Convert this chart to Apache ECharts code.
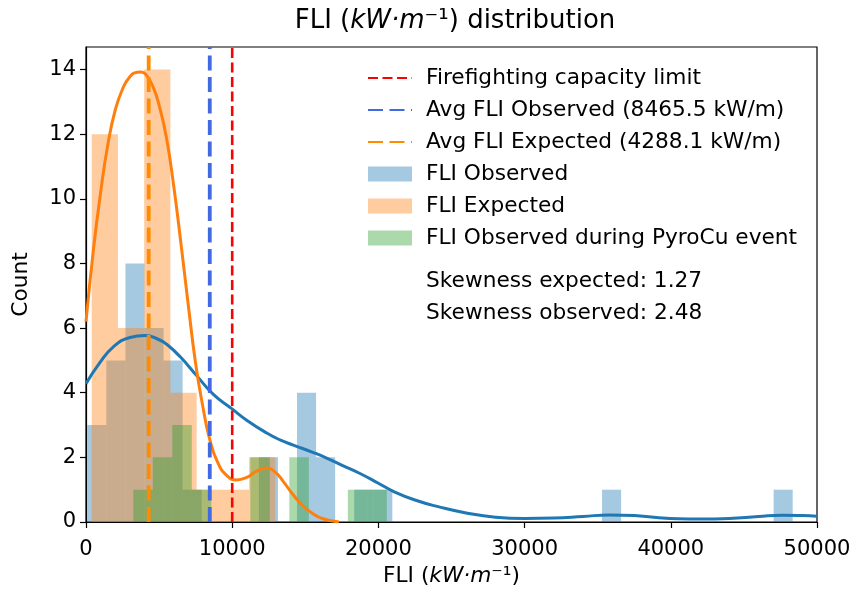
<!DOCTYPE html>
<html><head><meta charset="utf-8">
<script src="https://cdn.jsdelivr.net/npm/echarts@6/dist/echarts.min.js"></script>
<style>html,body{margin:0;padding:0;background:#fff}#c{width:858px;height:589px}</style>
</head><body><div id="c"></div>
<script>
// ---- data ----
const xTicks = [0, 10000, 20000, 30000, 40000, 50000];
const yTicks = [0, 2, 4, 6, 8, 10, 12, 14];

const obsBinWidth = 1304;
const obsBinLeft = [89, 1393, 2697, 4001, 5305, 6609, 11825, 14433, 15737, 18345, 19649, 35297, 47033];
const obsCounts  = [3, 5, 8, 6, 5, 1, 2, 4, 2, 1, 1, 1, 1];

const expBinWidth = 1794;
const expBinLeft = [390, 2184, 3978, 5772, 7566, 9360, 11154];
const expCounts  = [12, 6, 14, 4, 1, 1, 2];

const pyroBinWidth = 1334;
const pyroBinLeft = [3235, 4569, 5903, 7237, 11239, 13907, 17909, 19243];
const pyroCounts  = [1, 2, 3, 1, 2, 2, 1, 1];

const kdeObsX = [0, 900, 1870, 3010, 4040, 5000, 5520, 6430, 7570, 8710, 9990, 10990, 12330, 13270, 14180, 15550, 16460, 17600, 18740, 20000, 21020, 22500, 24210, 26000, 28000, 30000, 32000, 34000, 35800, 37500, 39000, 40500, 42000, 44000, 46000, 47600, 49000, 50000];
const kdeObsY = [4.28, 4.9, 5.42, 5.71, 5.77, 5.64, 5.5, 5.12, 4.53, 3.95, 3.5, 3.15, 2.76, 2.54, 2.38, 2.15, 1.98, 1.74, 1.5, 1.2, 0.95, 0.68, 0.46, 0.28, 0.15, 0.11, 0.12, 0.17, 0.22, 0.2, 0.14, 0.1, 0.09, 0.11, 0.17, 0.21, 0.2, 0.18];

const kdeExpX = [0, 500, 1000, 1500, 2000, 2500, 3000, 3500, 3760, 4100, 4600, 5000, 5500, 6000, 6500, 7000, 7500, 8000, 8465, 9000, 9600, 10300, 11000, 11700, 12300, 12900, 13500, 14100, 14800, 15500, 16200, 17300];
const kdeExpY = [6.2, 8.4, 10.2, 11.7, 12.75, 13.4, 13.78, 13.92, 13.93, 13.85, 13.45, 12.9, 11.9, 10.4, 8.6, 6.7, 4.9, 3.55, 2.55, 1.85, 1.45, 1.3, 1.38, 1.58, 1.67, 1.56, 1.25, 0.88, 0.52, 0.26, 0.1, 0.0];

const capacityLimit = 10000;
const avgObserved = 8465.5;
const avgExpected = 4288.1;
const skewExpected = 1.27;
const skewObserved = 2.48;
const yMax = 14.7;

// ---- chart ----
const FONT = 'DejaVu Sans';
const FS = 21.7;
const chart = echarts.init(document.getElementById('c'), null, {renderer: 'canvas'});

function histRender(params, api) {
  const x0 = api.value(0), x1 = api.value(1), c = api.value(2);
  const p0 = api.coord([x0, 0]);
  const p1 = api.coord([x1, c]);
  const cs = params.coordSys;
  const shape = echarts.graphic.clipRectByRect(
    {x: p0[0], y: p1[1], width: p1[0] - p0[0], height: p0[1] - p1[1]},
    {x: cs.x, y: cs.y, width: cs.width, height: cs.height});
  return shape && {type: 'rect', shape: shape, style: api.style()};
}
function hist(name, lefts, width, counts, color) {
  return {
    name: name, type: 'custom', renderItem: histRender, z: 1,
    itemStyle: {color: color},
    encode: {x: [0, 1], y: 2},
    data: lefts.map((l, i) => [l, l + width, counts[i]])
  };
}
function vline(name, x, color, width, dash) {
  return {
    name: name, type: 'line', symbol: 'none', z: 5, silent: true,
    lineStyle: {color: color, width: width, type: dash},
    itemStyle: {color: color},
    data: [[x, 0], [x, yMax]]
  };
}
function kde(x, y, color) {
  return {
    type: 'line', symbol: 'none', z: 4, smooth: 0.5, silent: true,
    lineStyle: {color: color, width: 3},
    data: x.map((v, i) => [v, y[i]])
  };
}

const rich = {
  n: {fontFamily: FONT, fontSize: 26, color: '#000'},
  i: {fontFamily: FONT, fontSize: 26, fontStyle: 'italic', color: '#000'}
};
const richX = {
  n: {fontFamily: FONT, fontSize: FS, color: '#000'},
  i: {fontFamily: FONT, fontSize: FS, fontStyle: 'italic', color: '#000'}
};
const noSym = {color: 'rgba(0,0,0,0)', borderWidth: 0};

chart.setOption({
  animation: false,
  backgroundColor: '#fff',
  title: {
    text: '{n|FLI (}{i|kW·m}{n|⁻¹) distribution}',
    left: 450, top: 3, textAlign: 'center',
    textStyle: {rich: rich, fontWeight: 'normal'}
  },
  grid: {left: 86, right: 41, top: 47, bottom: 67, outerBoundsMode: 'none', containLabel: false,
         show: true, borderColor: '#000', borderWidth: 1.2, backgroundColor: 'transparent'},
  xAxis: {
    type: 'value', min: 0, max: 50000, interval: 10000,
    name: '{n|FLI (}{i|kW·m}{n|⁻¹)}', nameLocation: 'middle', nameGap: 42,
    nameTextStyle: {rich: richX},
    axisLine: {show: true, onZero: false, lineStyle: {color: '#000', width: 1.2}},
    axisTick: {show: true, length: 6, lineStyle: {color: '#000', width: 1.2}},
    axisLabel: {fontFamily: FONT, fontSize: 21, color: '#000', margin: 17, formatter: v => String(v)},
    splitLine: {show: false}
  },
  yAxis: {
    type: 'value', min: 0, max: yMax,
    name: 'Count', nameLocation: 'middle', nameGap: 54,
    nameTextStyle: {fontFamily: FONT, fontSize: FS, color: '#000'},
    axisLine: {show: true, lineStyle: {color: '#000', width: 1.2}},
    axisTick: {show: true, length: 6, customValues: yTicks, lineStyle: {color: '#000', width: 1.2}},
    axisLabel: {fontFamily: FONT, fontSize: 21, color: '#000', margin: 10, customValues: yTicks},
    splitLine: {show: false}
  },
  legend: {
    orient: 'vertical', left: 362, top: 62, itemWidth: 44, itemHeight: 15, itemGap: 10,
    textStyle: {fontFamily: FONT, fontSize: FS, color: '#000', padding: [0, 0, 0, 9]},
    data: [
      {name: 'Firefighting capacity limit', itemStyle: noSym},
      {name: 'Avg FLI Observed (' + avgObserved.toFixed(1) + ' kW/m)', itemStyle: noSym},
      {name: 'Avg FLI Expected (' + avgExpected.toFixed(1) + ' kW/m)', itemStyle: noSym},
      {name: 'FLI Observed', icon: 'rect'},
      {name: 'FLI Expected', icon: 'rect'},
      {name: 'FLI Observed during PyroCu event', icon: 'rect'}
    ]
  },
  graphic: [
    {type: 'text', left: 426, top: 270, style: {text: 'Skewness expected: ' + skewExpected.toFixed(2), font: FS + 'px "DejaVu Sans"', fill: '#000'}},
    {type: 'text', left: 426, top: 302, style: {text: 'Skewness observed: ' + skewObserved.toFixed(2), font: FS + 'px "DejaVu Sans"', fill: '#000'}}
  ],
  series: [
    hist('FLI Observed', obsBinLeft, obsBinWidth, obsCounts, 'rgba(31,119,180,0.4)'),
    hist('FLI Expected', expBinLeft, expBinWidth, expCounts, 'rgba(255,127,14,0.4)'),
    hist('FLI Observed during PyroCu event', pyroBinLeft, pyroBinWidth, pyroCounts, 'rgba(44,160,44,0.4)'),
    kde(kdeObsX, kdeObsY, '#1f77b4'),
    kde(kdeExpX, kdeExpY, '#ff7f0e'),
    vline('Firefighting capacity limit', capacityLimit, '#ff0000', 2.6, [10, 4.5]),
    vline('Avg FLI Observed (' + avgObserved.toFixed(1) + ' kW/m)', avgObserved, '#4169e1', 3.8, [15, 6.5]),
    vline('Avg FLI Expected (' + avgExpected.toFixed(1) + ' kW/m)', avgExpected, '#ff8c00', 3.8, [15, 6.5])
  ]
});
</script></body></html>
